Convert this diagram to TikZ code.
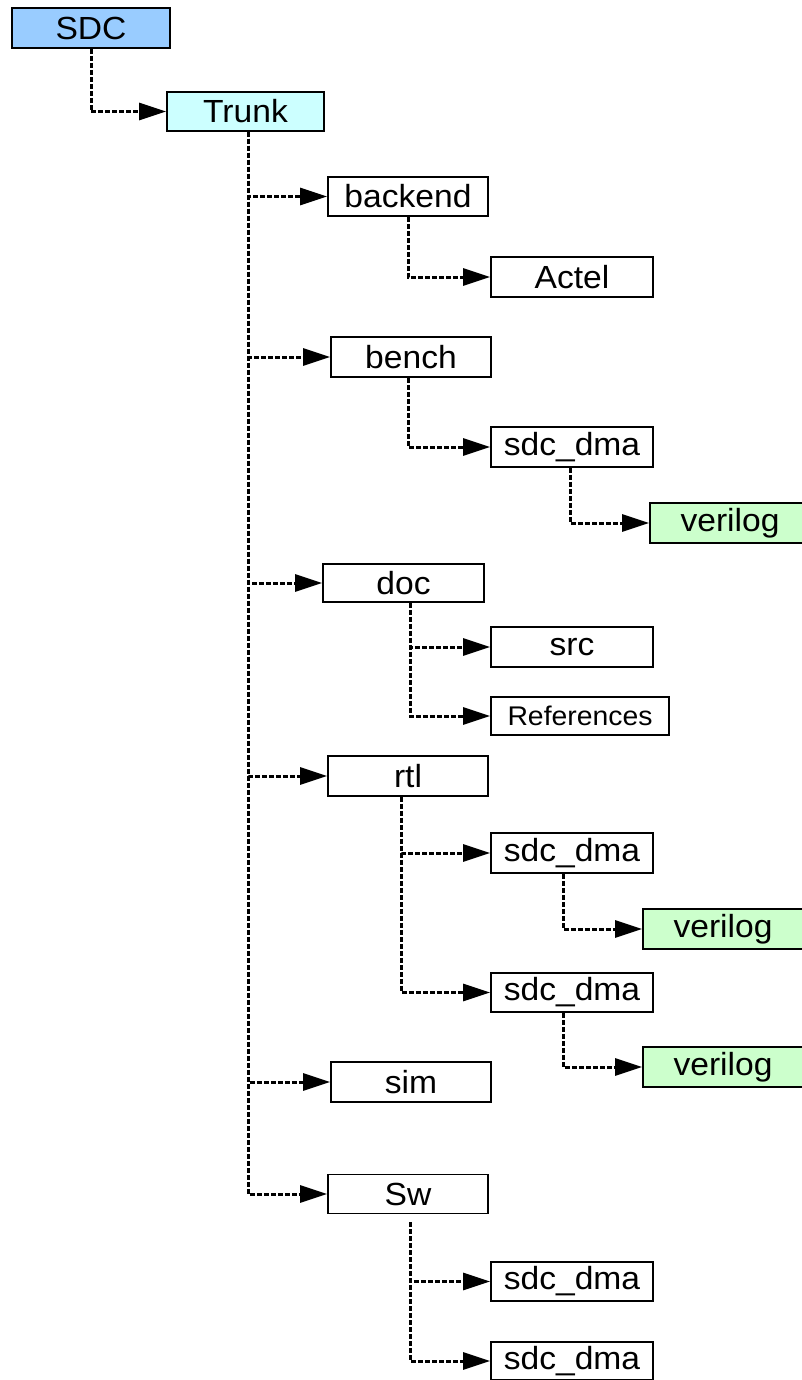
\documentclass[tikz,border=0pt]{standalone}
\usepackage{fontspec}
\setmainfont{Liberation Sans}[FakeStretch=1.05]
\usetikzlibrary{arrows.meta}
\definecolor{rootblue}{HTML}{99CCFF}
\definecolor{trunkcyan}{HTML}{CCFFFF}
\definecolor{leafgreen}{HTML}{CCFFCC}
\begin{document}
\begin{tikzpicture}[x=1pt, y=-1pt, line join=miter,
	dir/.style={draw, line width=1.8pt, minimum width=160pt, minimum height=40pt, inner sep=0pt, font=\fontsize{32}{36}\selectfont},
	link/.style={line width=3pt, dash pattern=on 5pt off 2pt, -{Triangle[length=27pt,width=17pt]}}]
	\useasboundingbox (0,0) rectangle (801,1380);
	% top of the tree
	\node[dir, fill=rootblue, minimum width=158pt] (sdc) at (91,28) {SDC};
	\node[dir, fill=trunkcyan, minimum width=157pt, minimum height=39pt] (trunk) at (245.5,111.5) {Trunk};
	% first level
	\node[dir, minimum height=39pt] (backend) at (408,196.5) {backend};
	\node[dir] (bench) at (411,357) {bench};
	\node[dir, minimum width=161pt, minimum height=38pt] (doc) at (403.5,583) {doc};
	\node[dir] (rtl) at (408,776) {rtl};
	\node[dir] (sim) at (411,1082) {sim};
	\node[dir, minimum height=39pt] (sw) at (408,1194) {Sw};
	% second level
	\node[dir, minimum width=162pt] (actel) at (572,277) {Actel};
	\node[dir, minimum width=162pt] (benchdma) at (572,447) {sdc\_dma};
	\node[dir, minimum width=162pt] (src) at (572,647) {src};
	\node[dir, minimum width=178pt, minimum height=38pt, font=\fontsize{27}{31}\selectfont] (refs) at (580,716) {References};
	\node[dir, minimum width=162pt] (rtldmaa) at (572,853) {sdc\_dma};
	\node[dir, minimum width=162pt, minimum height=39pt] (rtldmab) at (572,992.5) {sdc\_dma};
	\node[dir, minimum width=162pt, minimum height=39pt] (swdmaa) at (572,1281.5) {sdc\_dma};
	\node[dir, minimum width=162pt, minimum height=38pt] (swdmab) at (572,1361) {sdc\_dma};
	% verilog leaves
	\node[dir, fill=leafgreen] (benchver) at (730,523) {verilog};
	\node[dir, fill=leafgreen] (rtlvera) at (723,929) {verilog};
	\node[dir, fill=leafgreen] (rtlverb) at (723,1067) {verilog};
	
	\draw[link] (sdc.south) |- (trunk.west);
	\foreach \d in {backend,bench,doc,rtl,sim,sw}
		\draw[link] ([xshift=2.5pt]trunk.south) |- (\d.west);
	\draw[link] (backend.south) |- (actel.west);
	\draw[link] ([xshift=-3pt]bench.south) |- (benchdma.west);
	\draw[link] ([xshift=-2pt]benchdma.south) |- (benchver.west);
	\draw[link] ([xshift=6.5pt]doc.south) |- (src.west);
	\draw[link] ([xshift=6.5pt]doc.south) |- (refs.west);
	\draw[link] ([xshift=-6.5pt]rtl.south) |- (rtldmaa.west);
	\draw[link] ([xshift=-6.5pt]rtl.south) |- (rtldmab.west);
	\draw[link] ([xshift=-9pt]rtldmaa.south) |- (rtlvera.west);
	\draw[link] ([xshift=-9pt]rtldmab.south) |- (rtlverb.west);
	\draw[link] ([xshift=2pt,yshift=-8pt]sw.south) |- (swdmaa.west);
	\draw[link] ([xshift=2pt,yshift=-8pt]sw.south) |- (swdmab.west);
\end{tikzpicture}
\end{document}
